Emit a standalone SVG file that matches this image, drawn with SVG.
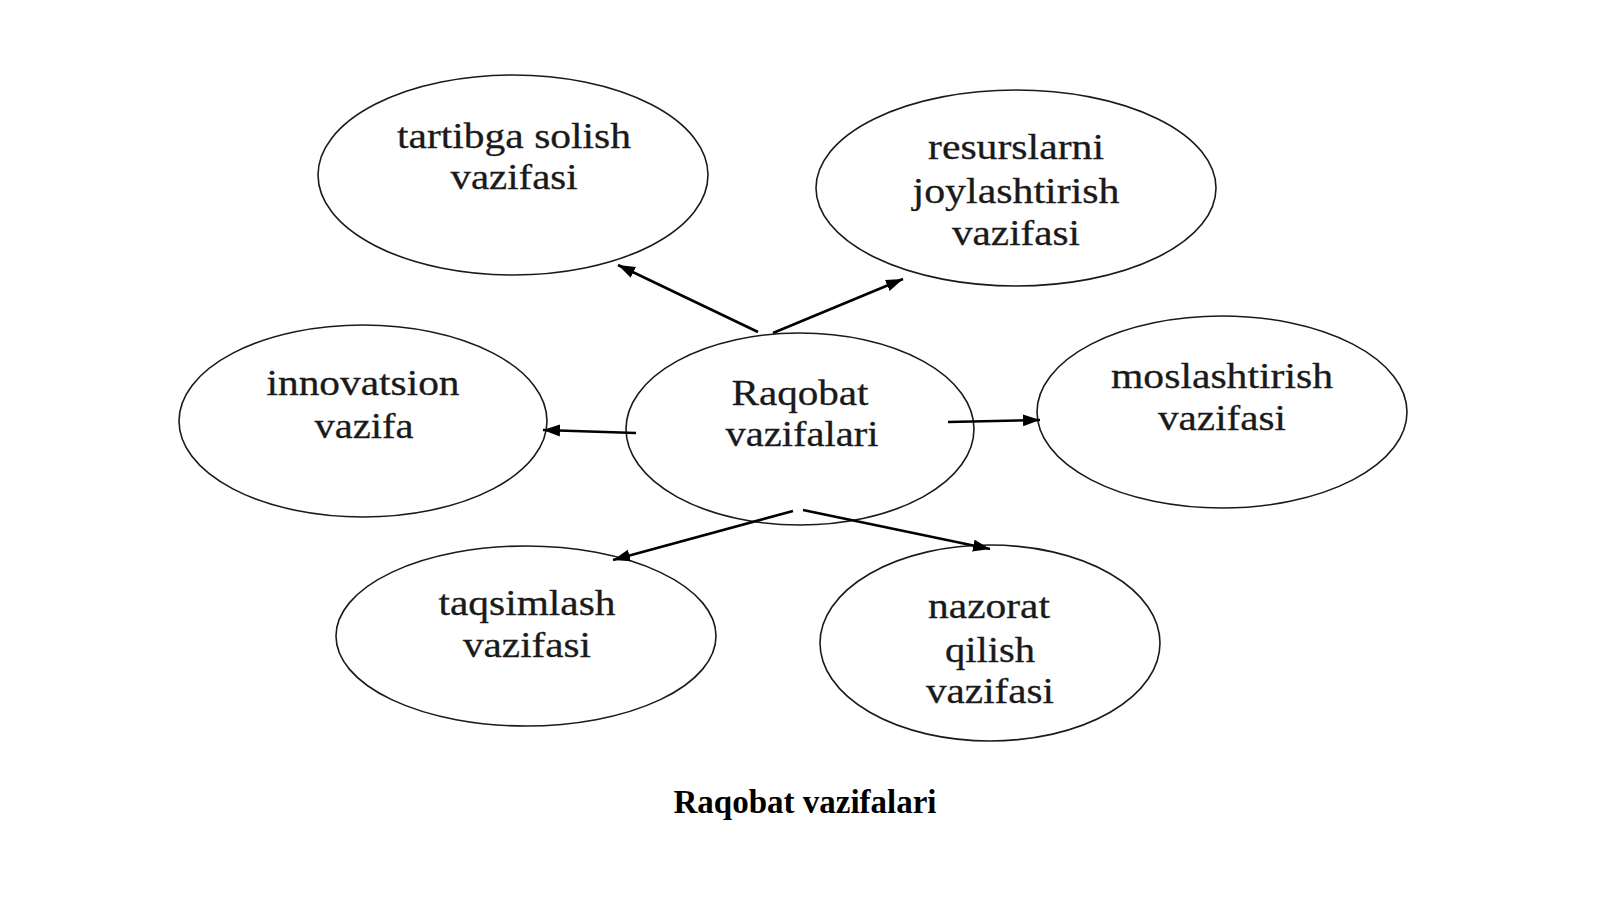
<svg xmlns="http://www.w3.org/2000/svg" width="1600" height="899" viewBox="0 0 1600 899">
<style>
.node ellipse{fill:#fff;stroke:#1a1a1a;stroke-width:1.6}
.node text{font-family:"Liberation Serif","Times New Roman",serif;font-size:35px;fill:#1a1a1a;stroke:#1a1a1a;stroke-width:0.3;text-anchor:middle}
.conn line{stroke:#000;stroke-width:2.6;marker-end:url(#ah)}
.title{font-family:"Liberation Serif","Times New Roman",serif;font-size:33px;font-weight:bold;fill:#000;text-anchor:middle}
</style>
<defs>
<marker id="ah" markerUnits="userSpaceOnUse" markerWidth="18" markerHeight="14" refX="17" refY="6" orient="auto">
<path d="M0,0 L17,6 L0,12 Z" fill="#000"/>
</marker>
</defs>
<rect width="1600" height="899" fill="#fff"/>
<g id="node-tartibga" class="node">
<ellipse cx="513" cy="175" rx="195" ry="100"/>
<text x="514" y="148" textLength="234" lengthAdjust="spacingAndGlyphs">tartibga solish</text>
<text x="514" y="189" textLength="127" lengthAdjust="spacingAndGlyphs">vazifasi</text>
</g>
<g id="node-resurslarni" class="node">
<ellipse cx="1016" cy="188" rx="200" ry="98"/>
<text x="1016" y="159" textLength="176" lengthAdjust="spacingAndGlyphs">resurslarni</text>
<text x="1016" y="203" textLength="207" lengthAdjust="spacingAndGlyphs">joylashtirish</text>
<text x="1016" y="245" textLength="128" lengthAdjust="spacingAndGlyphs">vazifasi</text>
</g>
<g id="node-innovatsion" class="node">
<ellipse cx="363" cy="421" rx="184" ry="96"/>
<text x="363" y="395" textLength="193" lengthAdjust="spacingAndGlyphs">innovatsion</text>
<text x="364" y="438" textLength="99" lengthAdjust="spacingAndGlyphs">vazifa</text>
</g>
<g id="node-moslashtirish" class="node">
<ellipse cx="1222" cy="412" rx="185" ry="96"/>
<text x="1222" y="388" textLength="222" lengthAdjust="spacingAndGlyphs">moslashtirish</text>
<text x="1222" y="430" textLength="128" lengthAdjust="spacingAndGlyphs">vazifasi</text>
</g>
<g id="node-center" class="node">
<ellipse cx="800" cy="429" rx="174" ry="96"/>
<text x="800" y="405" textLength="137" lengthAdjust="spacingAndGlyphs">Raqobat</text>
<text x="802" y="446" textLength="153" lengthAdjust="spacingAndGlyphs">vazifalari</text>
</g>
<g id="node-taqsimlash" class="node">
<ellipse cx="526" cy="636" rx="190" ry="90"/>
<text x="527" y="615" textLength="177" lengthAdjust="spacingAndGlyphs">taqsimlash</text>
<text x="527" y="657" textLength="128" lengthAdjust="spacingAndGlyphs">vazifasi</text>
</g>
<g id="node-nazorat" class="node">
<ellipse cx="990" cy="643" rx="170" ry="98"/>
<text x="989" y="618" textLength="122" lengthAdjust="spacingAndGlyphs">nazorat</text>
<text x="990" y="662" textLength="90" lengthAdjust="spacingAndGlyphs">qilish</text>
<text x="990" y="703" textLength="128" lengthAdjust="spacingAndGlyphs">vazifasi</text>
</g>
<g id="connectors" class="conn">
<line x1="758" y1="332" x2="618" y2="265"/>
<line x1="773" y1="333" x2="903" y2="279"/>
<line x1="636" y1="433" x2="543" y2="430"/>
<line x1="948" y1="422" x2="1040" y2="420"/>
<line x1="793" y1="511" x2="613" y2="560"/>
<line x1="803" y1="510" x2="990" y2="549"/>
</g>
<text class="title" x="805" y="813">Raqobat vazifalari</text>
</svg>
